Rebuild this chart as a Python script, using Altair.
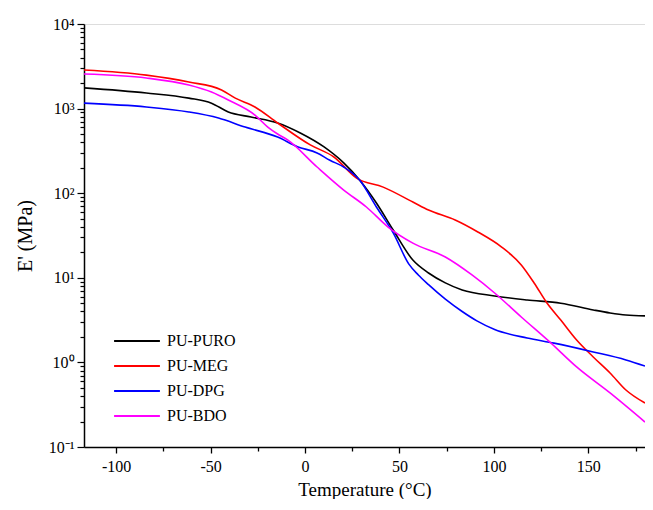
import altair as alt
import pandas as pd

series_names = ["PU-PURO", "PU-MEG", "PU-DPG", "PU-BDO"]
series_colors = ["#000000", "#ff0000", "#0000ff", "#ff00ff"]

puro_t = [-117, -84, -61.5, -49.5, -40.6, -28.6, -14.5, -2.5, 10.1, 20.5, 28.9, 37.8, 46.7,
          57.1, 65.4, 74.3, 83.2, 100.4, 117.6, 135.4, 152.6, 161.5, 169.9, 180]
puro_e = [1760, 1530, 1330, 1160, 912, 796, 676, 515, 352, 228, 143, 76.6, 36.7,
          16.2, 11.4, 8.71, 7.18, 6.10, 5.47, 5.01, 4.17, 3.84, 3.63, 3.55]

meg_t = [-117, -84, -61.5, -44.2, -36.9, -26.5, -14.5, 2.8, 15.3, 27.3, 41.4, 57.1, 65.4,
         79.5, 91.5, 104.1, 114.5, 121.3, 128.1, 135.4, 143.8, 152.6, 161.5, 169.9, 180]
meg_e = [2860, 2490, 2060, 1660, 1330, 1045, 676, 372, 268, 151, 118, 78.7, 63.2,
         48.2, 34.8, 23.1, 14.2, 8.69, 5.04, 3.17, 1.84, 1.16, 0.75, 0.472, 0.331]

dpg_t = [-117, -84, -61.5, -45.8, -31.7, -14.5, -4, 6.4, 13.2, 20.5, 28.9, 37.8, 46.7,
         55, 60, 65.4, 74.3, 83.2, 91, 100.4, 117.6, 131.8, 152.6, 169.9, 180]
dpg_e = [1160, 1045, 912, 774, 605, 461, 355, 299, 245, 204, 143, 68.7, 33.9,
         14.5, 10.8, 8.3, 5.6, 4.0, 3.1, 2.45, 1.94, 1.69, 1.33, 1.07, 0.906]

bdo_t = [-117, -84, -61.5, -49.5, -40.6, -26.5, -19.7, -14.5, -9.2, 6.4, 20.5, 32.5, 44,
         57.1, 74.3, 88.4, 100.4, 114.5, 130.1, 143.8, 161.5, 180]
bdo_e = [2560, 2300, 1900, 1570, 1265, 839, 605, 501, 426, 204, 109, 68.7, 39.8,
         25.7, 17.6, 10.8, 6.61, 3.44, 1.70, 0.883, 0.435, 0.197]

x_major = [-100, -50, 0, 50, 100, 150]
x_minor = [-75, -25, 25, 75, 125, 175]
y_decades = [0.1, 1, 10, 100, 1000, 10000]

rows = []
for name, ts, es in [("PU-PURO", puro_t, puro_e), ("PU-MEG", meg_t, meg_e),
                     ("PU-DPG", dpg_t, dpg_e), ("PU-BDO", bdo_t, bdo_e)]:
    for i, (t, e) in enumerate(zip(ts, es)):
        rows.append({"series": name, "T": t, "E": e, "order": i})
df = pd.DataFrame(rows)

y_ticks = []
for d in y_decades[:-1]:
    for k in range(1, 10):
        y_ticks.append(d * k)
y_ticks.append(y_decades[-1])

FONT = "Liberation Serif"

is_decade = "abs(log(datum.value)/LN10 - round(log(datum.value)/LN10)) < 0.001"
y_label_expr = (f"{is_decade} ? '10' + ['⁻¹','⁰','¹','²','³','⁴'][round(log(datum.value)/LN10)+1] : ''")
x_is_major = "indexof(" + str(x_major) + ", datum.value) >= 0"

chart = alt.Chart(df).mark_line(strokeWidth=1.6, interpolate="monotone", clip=True).encode(
    x=alt.X("T:Q",
            scale=alt.Scale(domain=[-117, 180], nice=False, zero=False),
            axis=alt.Axis(values=sorted(x_major + x_minor),
                          labelExpr=f"{x_is_major} ? toString(datum.value) : ''",
                          title="Temperature (°C)",
                          tickSize={"condition": {"test": x_is_major, "value": 6}, "value": 4},
                          grid=False, domainColor="#000", tickColor="#000",
                          domainWidth=1.5, tickWidth=1.3,
                          labelFont=FONT, labelFontSize=16, labelColor="#000",
                          labelPadding=5, labelOverlap=False,
                          titleFont=FONT, titleFontSize=19, titleFontWeight="normal",
                          titleColor="#000", titlePadding=6)),
    y=alt.Y("E:Q",
            scale=alt.Scale(type="log", domain=[0.1, 10000], nice=False),
            axis=alt.Axis(values=y_ticks, labelExpr=y_label_expr,
                          title="E' (MPa)",
                          tickSize={"condition": {"test": is_decade, "value": 7}, "value": 4},
                          grid=False, domainColor="#000", tickColor="#000",
                          domainWidth=1.5, tickWidth=1.2,
                          labelFont=FONT, labelFontSize=16, labelColor="#000",
                          labelPadding=3, labelOverlap=False, labelFlush=False,
                          titleFont=FONT, titleFontSize=20, titleFontWeight="normal",
                          titleColor="#000", titlePadding=13)),
    color=alt.Color("series:N",
                    scale=alt.Scale(domain=series_names, range=series_colors),
                    sort=series_names,
                    legend=alt.Legend(title=None, orient="none", legendX=29, legendY=305,
                                      symbolType="stroke", symbolStrokeWidth=2,
                                      symbolSize=2100, clipHeight=24, rowPadding=1,
                                      labelFont=FONT, labelFontSize=16, labelColor="#000",
                                      labelOffset=6)),
    order="order:Q",
).properties(
    width=561, height=423,
    autosize=alt.AutoSizeParams(type="none"),
    padding={"left": 76, "top": 16, "right": 0, "bottom": 52},
).configure_view(stroke=None).configure(background="white")

chart.save("out.html", embed_options={"renderer": "svg", "actions": False})
